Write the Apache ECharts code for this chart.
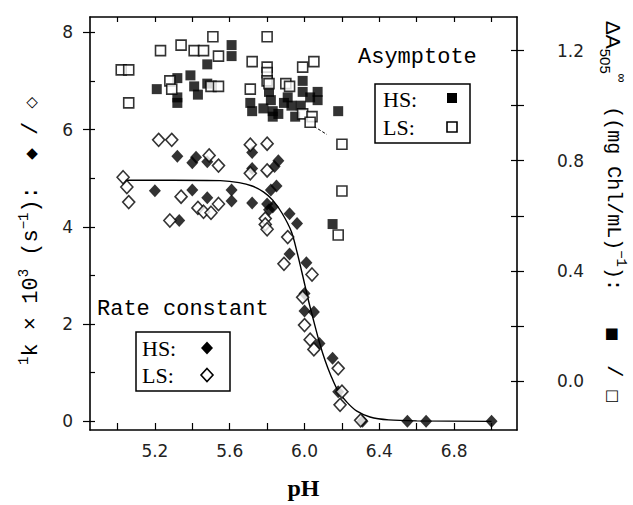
<!DOCTYPE html>
<html>
<head>
<meta charset="utf-8">
<title>Rate constant / Asymptote vs pH</title>
<script src="https://cdn.jsdelivr.net/npm/echarts@6.0.0/dist/echarts.min.js"></script>
<style>
    html, body { margin: 0; padding: 0; background: #fff; }
    #main { width: 633px; height: 505px; }
</style>
</head>
<body>
<div id="main"></div>
<script>
// ---- data ----
var xLabelTicks = [5.2, 5.6, 6.0, 6.4, 6.8];
var xTickMarks = [5.0, 5.2, 5.4, 5.6, 5.8, 6.0, 6.2, 6.4, 6.6, 6.8, 7.0];
var leftLabelTicks = [0, 2, 4, 6, 8];
var leftTickMarks = [0, 1, 2, 3, 4, 5, 6, 7, 8];
var rightLabelTicks = [0.0, 0.4, 0.8, 1.2];
var rightTickMarks = [0.0, 0.2, 0.4, 0.6, 0.8, 1.0, 1.2];

// rate constant, 1k x 10^3 (s^-1)  [pH, value]
var rateHS = [
    [5.32, 5.45], [5.40, 5.32], [5.42, 5.43], [5.48, 5.34], [5.72, 5.53], [5.72, 5.20],
    [5.86, 5.36], [5.84, 5.24], [5.85, 4.84], [5.82, 4.76], [5.20, 4.74], [5.40, 4.76],
    [5.48, 4.60], [5.61, 4.76], [5.61, 4.53], [5.72, 4.49], [5.80, 4.47], [5.81, 4.35],
    [5.83, 4.41], [5.33, 4.13], [5.92, 4.27], [5.96, 4.07], [5.92, 3.44], [6.01, 3.26],
    [6.00, 2.63], [6.00, 2.27], [6.05, 2.25], [6.08, 1.60], [6.15, 1.30], [6.18, 0.61],
    [6.31, 0.0], [6.55, 0.0], [6.65, 0.0], [7.00, 0.0]
];
var rateLS = [
    [5.22, 5.79], [5.29, 5.79], [5.49, 5.47], [5.54, 5.26], [5.71, 5.69], [5.80, 5.71],
    [5.71, 5.10], [5.80, 5.16], [5.03, 5.02], [5.05, 4.82], [5.06, 4.51], [5.34, 4.62],
    [5.43, 4.39], [5.46, 4.31], [5.50, 4.29], [5.54, 4.47], [5.28, 4.13], [5.79, 4.17],
    [5.79, 4.05], [5.80, 3.95], [5.91, 3.79], [5.89, 3.24], [6.04, 3.02], [5.99, 2.55],
    [6.00, 1.98], [6.03, 1.68], [6.05, 1.48], [6.18, 1.09], [6.20, 0.61], [6.19, 0.34],
    [6.30, 0.02]
];
// fitted curve
var rateFit = [
    [5.04, 4.96], [5.30, 4.96], [5.55, 4.95], [5.65, 4.91], [5.72, 4.84], [5.78, 4.72],
    [5.83, 4.55], [5.88, 4.28], [5.93, 3.90], [5.96, 3.48], [5.99, 3.00], [6.02, 2.50],
    [6.05, 2.05], [6.08, 1.62], [6.11, 1.25], [6.14, 0.95], [6.18, 0.62], [6.23, 0.38],
    [6.28, 0.21], [6.35, 0.09], [6.45, 0.03], [6.60, 0.01], [7.00, 0.0]
];

// asymptote, dA505 inf ((mg Chl/mL)^-1)  [pH, value]
var asymHS = [
    [5.21, 1.06], [5.32, 1.10], [5.39, 1.11], [5.41, 1.07], [5.43, 1.04], [5.48, 1.08],
    [5.32, 1.03], [5.32, 1.01], [5.61, 1.22], [5.61, 1.18], [5.48, 1.15], [5.71, 1.01],
    [5.72, 0.98], [5.81, 1.05], [5.82, 1.02], [5.83, 0.98], [5.83, 0.96], [5.91, 1.03],
    [5.93, 1.00], [5.98, 1.00], [5.99, 1.09], [5.99, 1.05], [6.03, 1.03], [6.07, 1.05],
    [6.07, 1.02], [6.18, 0.98], [6.15, 0.57], [5.78, 0.99], [5.86, 0.97], [5.95, 0.96],
    [5.89, 1.01]
];
var asymLS = [
    [5.02, 1.13], [5.06, 1.13], [5.06, 1.01], [5.23, 1.20], [5.34, 1.22], [5.41, 1.20],
    [5.46, 1.20], [5.51, 1.25], [5.54, 1.18], [5.28, 1.09], [5.29, 1.06], [5.50, 1.07],
    [5.54, 1.07], [5.80, 1.25], [5.72, 1.16], [5.80, 1.14], [5.80, 1.12], [5.80, 1.09],
    [5.81, 1.08], [5.71, 1.06], [5.90, 1.08], [5.92, 1.07], [5.99, 1.14], [6.05, 1.16],
    [5.99, 0.97], [6.04, 0.96], [6.03, 0.94], [6.20, 0.86], [6.20, 0.69], [6.18, 0.53]
];
var asymDash = [[6.05, 0.925], [6.12, 0.895]];

// ---- chart ----
var myChart = echarts.init(document.getElementById('main'), null, { renderer: 'svg' });

var ink = '#000';
var tickFont = { fontFamily: 'DejaVu Sans', fontSize: 17, color: '#222' };
var monoFont = 'Liberation Mono';

function valueAxis(extra) {
    var base = {
        type: 'value',
        scale: false,
        splitLine: { show: false },
        axisLine: { show: true, onZero: false, lineStyle: { color: ink, width: 1.6 } },
        axisTick: { show: true, inside: true, length: 6, lineStyle: { color: ink, width: 1.2 } },
        axisLabel: { show: false }
    };
    for (var k in extra) {
        if (typeof extra[k] === 'object' && base[k] && !Array.isArray(extra[k])) {
            for (var j in extra[k]) base[k][j] = extra[k][j];
        } else {
            base[k] = extra[k];
        }
    }
    return base;
}

var xMin = 4.853, xMax = 7.136;
var lMin = -0.178, lMax = 8.316;
var rMin = -0.178, rMax = 1.322;

option = {
    backgroundColor: '#fff',
    animation: false,
    grid: { left: 90, right: 116, top: 17, bottom: 58, containLabel: false },
    xAxis: [
        valueAxis({
            position: 'bottom', min: xMin, max: xMax,
            name: 'pH', nameLocation: 'middle', nameGap: 46,
            nameTextStyle: { fontFamily: 'Liberation Serif', fontWeight: 'bold', fontSize: 24, color: ink },
            axisTick: { customValues: xTickMarks, length: 7 },
            axisLabel: {
                show: true, customValues: xLabelTicks, margin: 12,
                fontFamily: tickFont.fontFamily, fontSize: tickFont.fontSize, color: tickFont.color,
                formatter: function (v) { return v.toFixed(1); }
            }
        }),
        valueAxis({
            position: 'top', min: xMin, max: xMax,
            axisTick: { customValues: xTickMarks, length: 5 }
        })
    ],
    yAxis: [
        valueAxis({
            position: 'left', min: lMin, max: lMax,
            axisTick: { customValues: leftTickMarks, length: 5 },
            axisLabel: {
                show: true, customValues: leftLabelTicks, margin: 17,
                fontFamily: tickFont.fontFamily, fontSize: tickFont.fontSize, color: tickFont.color,
                formatter: function (v) { return String(Math.round(v)); }
            }
        }),
        valueAxis({
            position: 'right', min: rMin, max: rMax,
            axisTick: { customValues: rightTickMarks, length: 6 },
            axisLabel: {
                show: true, customValues: rightLabelTicks, margin: 40,
                fontFamily: tickFont.fontFamily, fontSize: tickFont.fontSize, color: tickFont.color,
                formatter: function (v) { return v.toFixed(1); }
            }
        }),
        // outward halves of the crossing ticks
        valueAxis({
            position: 'left', min: lMin, max: lMax,
            axisLine: { show: false },
            axisTick: { customValues: leftLabelTicks, inside: false, length: 7 }
        }),
        valueAxis({
            position: 'right', min: rMin, max: rMax,
            axisLine: { show: false },
            axisTick: { customValues: rightTickMarks, inside: false, length: 7 }
        })
    ],
    series: [
        {
            name: 'fit', type: 'line', data: rateFit, xAxisIndex: 0, yAxisIndex: 0,
            smooth: 0.3, showSymbol: false, z: 1,
            lineStyle: { color: ink, width: 1.4 }
        },
        {
            name: 'dash', type: 'line', data: asymDash, xAxisIndex: 0, yAxisIndex: 1,
            showSymbol: false, z: 1,
            lineStyle: { color: ink, width: 1, type: [3, 2] }
        },
        {
            name: 'HS rate', type: 'scatter', data: rateHS, xAxisIndex: 0, yAxisIndex: 0,
            symbol: 'diamond', symbolSize: [12, 13], z: 3,
            itemStyle: { color: ink }
        },
        {
            name: 'HS asym', type: 'scatter', data: asymHS, xAxisIndex: 0, yAxisIndex: 1,
            symbol: 'rect', symbolSize: 10, z: 3,
            itemStyle: { color: ink }
        },
        {
            name: 'LS rate', type: 'scatter', data: rateLS, xAxisIndex: 0, yAxisIndex: 0,
            symbol: 'diamond', symbolSize: [12, 13], z: 4,
            itemStyle: { color: '#fff', borderColor: ink, borderWidth: 1.6 }
        },
        {
            name: 'LS asym', type: 'scatter', data: asymLS, xAxisIndex: 0, yAxisIndex: 1,
            symbol: 'rect', symbolSize: 10, z: 4,
            itemStyle: { color: '#fff', borderColor: ink, borderWidth: 1.6 }
        }
    ],
    graphic: [
        // left axis title
        {
            type: 'text', x: 31, y: 231, rotation: Math.PI / 2,
            style: {
                text: '{s|1}{m|k × 10}{s|3}{m| (s}{s|−1}{m|):  }{y|◆}{m| / }{y|◇}',
                align: 'center', verticalAlign: 'middle',
                rich: {
                    m: { fontFamily: monoFont, fontSize: 22, lineHeight: 28, fill: ink },
                    s: { fontFamily: monoFont, fontSize: 14, lineHeight: 14, verticalAlign: 'top', fill: ink },
                    y: { fontFamily: 'DejaVu Sans', fontSize: 15, lineHeight: 28, fill: ink }
                }
            }
        },
        // right axis title
        {
            type: 'text', x: 613, y: 212, rotation: -Math.PI / 2,
            style: {
                text: '{a|ΔA}{b|505}{t|∞}{m|  ((mg Chl/mL)}{t|−1}{m|):   }{y|■}{m|  / }{y|□}',
                align: 'center', verticalAlign: 'middle',
                rich: {
                    a: { fontFamily: 'Liberation Sans', fontSize: 21, lineHeight: 30, fill: ink },
                    b: { fontFamily: 'Liberation Sans', fontSize: 15, lineHeight: 15, verticalAlign: 'bottom', fill: ink },
                    t: { fontFamily: monoFont, fontSize: 14, lineHeight: 14, verticalAlign: 'top', fill: ink },
                    m: { fontFamily: monoFont, fontSize: 20, lineHeight: 30, fill: ink },
                    y: { fontFamily: 'DejaVu Sans', fontSize: 15, lineHeight: 30, fill: ink }
                }
            }
        },
        // Asymptote legend
        {
            type: 'text', x: 358, y: 57,
            style: { text: 'Asymptote', font: '22px "Liberation Mono"', fill: ink, verticalAlign: 'middle' }
        },
        {
            type: 'rect', shape: { x: 375, y: 84, width: 95, height: 59 },
            style: { fill: '#fff', stroke: ink, lineWidth: 1.5 }, z: 10
        },
        {
            type: 'text', x: 383, y: 99, z: 11,
            style: { text: 'HS:', font: '22px "Liberation Serif"', fill: ink, verticalAlign: 'middle' }
        },
        {
            type: 'text', x: 383, y: 127, z: 11,
            style: { text: 'LS:', font: '22px "Liberation Serif"', fill: ink, verticalAlign: 'middle' }
        },
        {
            type: 'rect', shape: { x: 447, y: 93, width: 10, height: 10 }, z: 11,
            style: { fill: ink }
        },
        {
            type: 'rect', shape: { x: 447, y: 122, width: 10, height: 10 }, z: 11,
            style: { fill: '#fff', stroke: ink, lineWidth: 1.6 }
        },
        // Rate constant legend
        {
            type: 'text', x: 97, y: 309,
            style: { text: 'Rate constant', font: '22px "Liberation Mono"', fill: ink, verticalAlign: 'middle' }
        },
        {
            type: 'rect', shape: { x: 136, y: 332, width: 94, height: 59 },
            style: { fill: '#fff', stroke: ink, lineWidth: 1.5 }, z: 10
        },
        {
            type: 'text', x: 142, y: 348, z: 11,
            style: { text: 'HS:', font: '22px "Liberation Serif"', fill: ink, verticalAlign: 'middle' }
        },
        {
            type: 'text', x: 142, y: 375, z: 11,
            style: { text: 'LS:', font: '22px "Liberation Serif"', fill: ink, verticalAlign: 'middle' }
        },
        {
            type: 'polygon', shape: { points: [[207, 341.5], [213, 348], [207, 354.5], [201, 348]] }, z: 11,
            style: { fill: ink }
        },
        {
            type: 'polygon', shape: { points: [[207, 368.5], [213, 375], [207, 381.5], [201, 375]] }, z: 11,
            style: { fill: '#fff', stroke: ink, lineWidth: 1.6 }
        }
    ]
};

myChart.setOption(option);
</script>
</body>
</html>
